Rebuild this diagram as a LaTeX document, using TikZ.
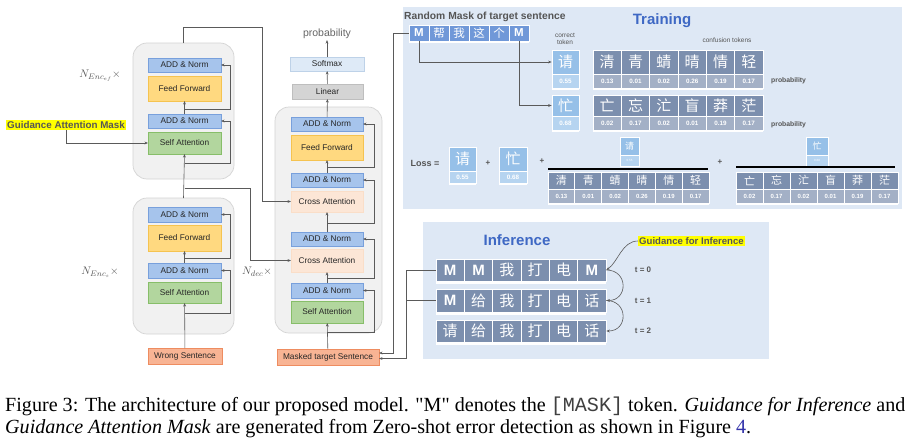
\documentclass[tikz,border=0pt]{standalone}
\usepackage{fontspec}
\setmainfont{Liberation Serif}
\setsansfont{Liberation Sans}
\setmonofont{Liberation Mono}
\newfontfamily\cjk{Noto Sans CJK SC}
\usetikzlibrary{arrows.meta,calc}
\definecolor{anfill}{RGB}{166,196,236}
\definecolor{anline}{RGB}{120,160,220}
\definecolor{fffill}{RGB}{255,217,128}
\definecolor{ffline}{RGB}{245,195,80}
\definecolor{safill}{RGB}{178,214,158}
\definecolor{saline}{RGB}{135,190,105}
\definecolor{cafill}{RGB}{252,230,214}
\definecolor{caline}{RGB}{250,222,200}
\definecolor{smfill}{RGB}{222,234,247}
\definecolor{smline}{RGB}{190,210,232}
\definecolor{linfill}{RGB}{212,212,212}
\definecolor{linline}{RGB}{190,190,190}
\definecolor{wsfill}{RGB}{248,180,148}
\definecolor{wsline}{RGB}{238,140,96}
\definecolor{contfill}{RGB}{241,241,241}
\definecolor{contline}{RGB}{212,212,212}
\definecolor{panel}{RGB}{222,232,245}
\definecolor{maskc}{RGB}{112,152,216}
\definecolor{ctup}{RGB}{150,192,232}
\definecolor{ctlo}{RGB}{182,212,240}
\definecolor{slup}{RGB}{124,143,174}
\definecolor{sllo}{RGB}{163,176,198}
\definecolor{conn}{RGB}{90,90,90}
\definecolor{lbl}{RGB}{85,85,85}
\definecolor{titleblue}{RGB}{62,104,196}
\definecolor{hl}{RGB}{255,255,0}
\definecolor{linkblue}{RGB}{50,50,170}
\newcommand\MM{{\sffamily\bfseries M}}
\newcommand\bx[7]{\node[#2, minimum width={(#5-#3)*1pt}, minimum height={(#6-#4)*1pt}] (#1) at ({(#3+#5)/2},{(#4+#6)/2}) {#7};}
\newcommand\crow[7]{%
  \foreach \t [count=\i] in {#7} {
    \pgfmathsetmacro\cw{(#4-#2)/6}
    \pgfmathsetmacro\cx{#2+(\i-0.5)*\cw}
    \node[#6, minimum width=\cw pt, minimum height={(#5-#3)*1pt}] (#1\i) at (\cx,{(#3+#5)/2}) {\t};
  }}
\begin{document}
\begin{tikzpicture}[x=1pt,y=-1pt,
  base/.style={draw, line width=0.5pt, inner sep=1pt, outer sep=0pt, font=\sffamily\fontsize{8.3}{9}\selectfont, text=black!85},
  an/.style={base, fill=anfill, draw=anline},
  ff/.style={base, fill=fffill, draw=ffline},
  sa/.style={base, fill=safill, draw=saline},
  ca/.style={base, fill=cafill, draw=caline},
  smx/.style={base, fill=smfill, draw=smline},
  linx/.style={base, fill=linfill, draw=linline},
  wsx/.style={base, fill=wsfill, draw=wsline},
  cont/.style={draw=contline, fill=contfill, rounded corners=14pt, line width=0.7pt, outer sep=0pt},
  pnl/.style={fill=panel, draw=none, outer sep=0pt},
  arr/.style={draw=conn, line width=0.6pt, -{Stealth[length=3.5pt,width=2.8pt]}},
  ln/.style={draw=conn, line width=0.6pt},
  hlx/.style={fill=hl, inner sep=1pt, text=lbl, font=\sffamily\bfseries\fontsize{9.8}{10}\selectfont},
  mlab/.style={text=lbl, font=\fontsize{11}{12}\selectfont},
  mcell/.style={fill=maskc, draw=white, line width=0.7pt, text=white, inner sep=0pt, font=\cjk\fontsize{11.5}{12}\selectfont},
  ctu/.style={fill=ctup, draw=white, line width=0.7pt, text=white, inner sep=0pt, font=\cjk\fontsize{15}{15}\selectfont},
  ctl/.style={fill=ctlo, draw=white, line width=0.7pt, text=white, inner sep=0pt, font=\sffamily\bfseries\fontsize{6.3}{7}\selectfont},
  slu/.style={fill=slup, draw=white, line width=0.7pt, text=white, inner sep=0pt, font=\cjk\fontsize{15}{15}\selectfont},
  sll/.style={fill=sllo, draw=white, line width=0.7pt, text=white, inner sep=0pt, font=\sffamily\bfseries\fontsize{6.3}{7}\selectfont},
  slus/.style={slu, font=\cjk\fontsize{11}{11}\selectfont},
  slls/.style={sll, font=\sffamily\bfseries\fontsize{6}{7}\selectfont},
  ctus/.style={ctu, font=\cjk\fontsize{9}{9}\selectfont},
  ctls/.style={ctl, font=\sffamily\fontsize{3}{3}\selectfont},
  icell/.style={slu, font=\cjk\fontsize{15}{15}\selectfont},
  smalltxt/.style={text=lbl, font=\sffamily\fontsize{6.5}{7.5}\selectfont, align=center, inner sep=0pt},
  smallb/.style={text=lbl, font=\sffamily\bfseries\fontsize{6.8}{7.5}\selectfont, inner sep=0pt},
  ttl/.style={text=titleblue, font=\sffamily\bfseries\fontsize{15}{16}\selectfont},
  captxt/.style={anchor=base west, inner sep=0pt, font=\fontsize{20.1}{23}\selectfont}
]
\useasboundingbox (0,0) rectangle (912,439);
\fill[white] (0,0) rectangle (912,439);

% ---------- upper encoder ----------
\bx{E1}{cont}{133}{43}{234}{179}{}
\bx{E1an2}{an}{148}{58}{221}{72}{ADD \& Norm}
\bx{E1ff}{ff}{148}{76}{221}{101}{Feed Forward}
\bx{E1an1}{an}{148}{114}{221}{128}{ADD \& Norm}
\bx{E1sa}{sa}{148}{132}{221}{154}{Self Attention}
\node[mlab] (NE1) at (100,76) {$N_{Enc_{ef}}\times$};

% ---------- lower encoder ----------
\bx{E2}{cont}{133}{198}{234}{334}{}
\bx{E2an2}{an}{148}{207}{221}{222}{ADD \& Norm}
\bx{E2ff}{ff}{148}{225}{221}{251}{Feed Forward}
\bx{E2an1}{an}{148}{263}{221}{278}{ADD \& Norm}
\bx{E2sa}{sa}{148}{282}{221}{303}{Self Attention}
\bx{ws}{wsx}{148}{348}{222}{364}{Wrong Sentence}
\node[mlab] (NE2) at (100,272) {$N_{Enc_{s}}\times$};

\node[hlx] (gam) at (66,125) {Guidance Attention Mask};

% ---------- decoder ----------
\bx{D}{cont}{275}{107}{382}{333}{}
\bx{Dan4}{an}{291}{117}{363}{131}{ADD \& Norm}
\bx{Dff}{ff}{291}{135}{363}{160}{Feed Forward}
\bx{Dan3}{an}{291}{173}{363}{187}{ADD \& Norm}
\bx{Dca2}{ca}{291}{191}{363}{212}{Cross Attention}
\bx{Dan2}{an}{291}{232}{363}{246}{ADD \& Norm}
\bx{Dca1}{ca}{291}{249}{363}{272}{Cross Attention}
\bx{Dan1}{an}{291}{283}{363}{298}{ADD \& Norm}
\bx{Dsa}{sa}{291}{301}{363}{323}{Self Attention}
\bx{mts}{wsx}{277}{349}{379}{365}{Masked target Sentence}
\bx{lin}{linx}{292}{84}{363}{99}{Linear}
\bx{sm}{smx}{290}{57}{364}{71}{Softmax}
\node[text=black!60, font=\sffamily\fontsize{10.5}{11}\selectfont, inner sep=1pt] (prob) at (327,34) {probability};
\node[mlab] (ND) at (257,272) {$N_{dec}\times$};

% ---------- encoder connectors ----------
\draw[arr] (ws) -- (E2sa);
\coordinate (e2r1) at (184.5,313);
\draw[arr] (e2r1) -- ++(45.5,0) |- (E2an1.east);
\draw[arr] (E2an1) -- (E2ff);
\coordinate (e2r2) at (184.5,258);
\draw[arr] (e2r2) -- ++(45.5,0) |- (E2an2.east);
\draw[arr] (E2.north) -- (E1sa.south);
\coordinate (br1) at (184.5,188);
\draw[arr] (br1) -- ++(65.5,0) |- (Dca1.west);
\coordinate (e1r1) at (184.5,163);
\draw[arr] (e1r1) -- ++(45.5,0) |- (E1an1.east);
\draw[arr] (E1an1) -- (E1ff);
\coordinate (e1r2) at (184.5,109);
\draw[arr] (e1r2) -- ++(45.5,0) |- (E1an2.east);
\draw[arr] (E1.north) -- ++(0,-16) -- ++(78.5,0) |- (Dca2.west);
\draw[arr] (gam.south) |- (E1sa.west);

% ---------- decoder connectors ----------
\draw[arr] (mts) -- (Dsa);
\coordinate (dr1) at (327,332);
\draw[arr] (dr1) -- ++(47,0) |- (Dan1.east);
\draw[arr] (Dan1) -- (Dca1);
\coordinate (dr2) at (327,278);
\draw[arr] (dr2) -- ++(47,0) |- (Dan2.east);
\draw[arr] (Dan2) -- (Dca2);
\coordinate (dr3) at (327,223);
\draw[arr] (dr3) -- ++(47,0) |- (Dan3.east);
\draw[arr] (Dan3) -- (Dff);
\coordinate (dr4) at (327,167);
\draw[arr] (dr4) -- ++(47,0) |- (Dan4.east);
\draw[arr] (Dan4) -- (lin);
\draw[arr] (lin) -- (sm);
\draw[arr] (sm) -- (prob);

% ---------- training panel ----------
\bx{T}{pnl}{403}{7}{902}{209}{}
\node[anchor=west, text=lbl, font=\sffamily\bfseries\fontsize{10.3}{11}\selectfont, inner sep=0pt] (rmt) at (404,17) {Random Mask of target sentence};
\node[ttl] (train) at (662,21) {Training};
\fill[white] (409,40) rectangle (529,43);
\crow{m}{409}{25}{529}{41}{mcell}{\MM,帮,我,这,个,\MM}
\node[smalltxt] (corr) at (565,39) {correct\\token};
\node[smalltxt] (conf) at (727,40) {confusion tokens};
% correct tokens
\fill[white] (552,87) rectangle (579,90);
\bx{ct1}{ctu}{552}{50}{579}{74}{请}
\bx{ct1p}{ctl}{552}{74}{579}{88}{0.55}
\fill[white] (552,129) rectangle (579,132);
\bx{ct2}{ctu}{552}{95}{579}{116}{忙}
\bx{ct2p}{ctl}{552}{116}{579}{130}{0.68}
% confusion rows
\fill[white] (593,87) rectangle (763,90);
\crow{c}{593}{50}{763}{74}{slu}{清,青,蜻,晴,情,轻}
\crow{cp}{593}{74}{763}{88}{sll}{0.13,0.01,0.02,0.26,0.19,0.17}
\fill[white] (593,129) rectangle (763,132);
\crow{d}{593}{95}{763}{116}{slu}{亡,忘,汒,盲,莽,茫}
\crow{dp}{593}{116}{763}{130}{sll}{0.02,0.17,0.02,0.01,0.19,0.17}
\node[smallb, anchor=west] (p1) at (771,81) {probability};
\node[smallb, anchor=west] (p2) at (771,125) {probability};
\draw[arr] (m1.south) |- (ct1.west);
\draw[arr] (m6.south) |- (ct2.west);
% loss row
\node[text=lbl, font=\sffamily\bfseries\fontsize{9}{10}\selectfont, inner sep=0pt] (loss) at (425,163) {Loss =};
\fill[white] (449,182) rectangle (476,185);
\bx{L1}{ctu}{449}{147}{476}{171}{请}
\bx{L1p}{ctl}{449}{171}{476}{183}{0.55}
\node[text=lbl, font=\sffamily\bfseries\fontsize{8}{9}\selectfont, inner sep=0pt] (pl1) at (488,163) {+};
\fill[white] (499,182) rectangle (527,185);
\bx{L2}{ctu}{499}{147}{527}{171}{忙}
\bx{L2p}{ctl}{499}{171}{527}{183}{0.68}
\node[text=lbl, font=\sffamily\bfseries\fontsize{8}{9}\selectfont, inner sep=0pt] (pl2) at (542,161) {+};
% fraction 1
\bx{F1}{ctus}{620}{137}{639}{155}{请}
\bx{F1p}{ctls}{620}{155}{639}{166}{0.55}
\draw[black, line width=1.4pt] (548,169) -- (708,169);
\fill[white] (548,202) rectangle (709,205);
\crow{e}{548}{172}{709}{189}{slus}{清,青,蜻,晴,情,轻}
\crow{ep}{548}{189}{709}{203}{slls}{0.13,0.01,0.02,0.26,0.19,0.17}
\node[text=lbl, font=\sffamily\bfseries\fontsize{8}{9}\selectfont, inner sep=0pt] (pl3) at (720,162) {+};
% fraction 2
\bx{F2}{ctus}{806}{137}{828}{155}{忙}
\bx{F2p}{ctls}{806}{155}{828}{166}{0.68}
\draw[black, line width=1.4pt] (736,167) -- (895,167);
\fill[white] (736,202) rectangle (898,205);
\crow{f}{736}{172}{898}{189}{slus}{亡,忘,汒,盲,莽,茫}
\crow{fp}{736}{189}{898}{203}{slls}{0.02,0.17,0.02,0.01,0.19,0.17}

% ---------- inference panel ----------
\bx{I}{pnl}{423}{222}{769}{359}{}
\node[ttl] (inf) at (517,240) {Inference};
\fill[white] (436,281) rectangle (606,284);
\crow{ia}{436}{259}{606}{281}{icell}{\MM,\MM,我,打,电,\MM}
\fill[white] (436,312) rectangle (606,315);
\crow{ib}{436}{289}{606}{312}{icell}{\MM,给,我,打,电,话}
\fill[white] (436,342) rectangle (606,345);
\crow{ic}{436}{320}{606}{342}{icell}{请,给,我,打,电,话}
\node[smallb, font=\sffamily\bfseries\fontsize{8}{9}\selectfont] (t0) at (643,270) {t = 0};
\node[smallb, font=\sffamily\bfseries\fontsize{8}{9}\selectfont] (t1) at (643,301) {t = 1};
\node[smallb, font=\sffamily\bfseries\fontsize{8}{9}\selectfont] (t2) at (643,331) {t = 2};
\node[hlx, font=\sffamily\bfseries\fontsize{9.6}{10}\selectfont, anchor=west] (gfi) at (638,241) {Guidance for Inference};
\draw[arr] (gfi.west) .. controls (622,241) and (618,262) .. (ia6.east);
\draw[arr] (ia6.east) .. controls +(22,0) and +(22,0) .. (ib6.east);
\draw[arr] (ib6.east) .. controls +(22,0) and +(22,0) .. (ic6.east);

% ---------- links to masked target sentence ----------
\draw[arr] (m1.west) -- ++(-15,0) |- ([yshift=4pt]mts.east);
\draw[arr] (ia1.west) -- ++(-29,0) |- ([yshift=-1.5pt]mts.east);
\draw[ln] (ib1.west) -- ++(-29,0);

% ---------- caption ----------
\node[captxt] (cap1) at (5,411) {Figure 3: The architecture of our proposed model. \textquotedbl M\textquotedbl{} denotes the {\ttfamily\color{black!75}[MASK]} token. \textit{Guidance for Inference} and};
\node[captxt] (cap2) at (5,433) {\textit{Guidance Attention Mask} are generated from Zero-shot error detection as shown in Figure {\color{linkblue}4}.};
\end{tikzpicture}
\end{document}
